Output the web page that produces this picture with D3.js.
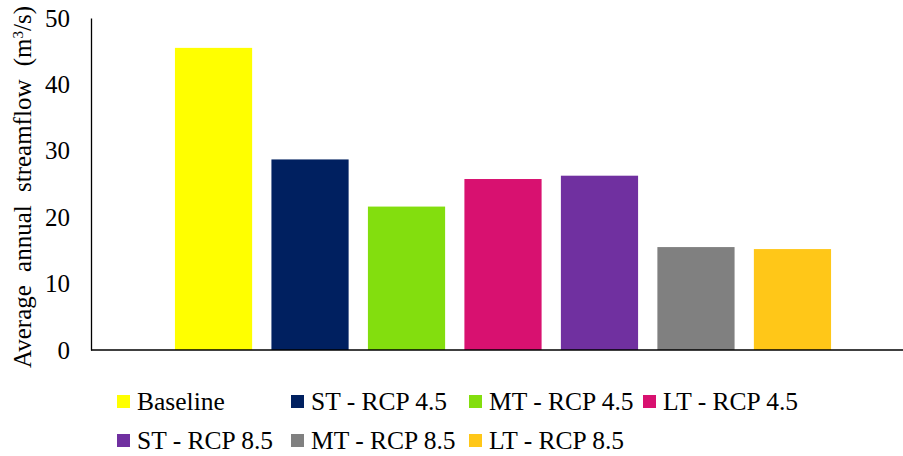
<!DOCTYPE html>
<html>
<head>
<meta charset="utf-8">
<script src="https://cdn.jsdelivr.net/npm/d3@7/dist/d3.min.js"></script>
<style>
  body { margin: 0; background: #fff; }
  svg { display: block; font-family: "Liberation Serif", "Times New Roman", serif; }
</style>
</head>
<body>
<svg id="chart" width="903" height="456"></svg>
<script>
// Scenario names, mean annual streamflow (m³/s) and bar colours
const scenarios = ["Baseline", "ST - RCP 4.5", "MT - RCP 4.5", "LT - RCP 4.5",
                   "ST - RCP 8.5", "MT - RCP 8.5", "LT - RCP 8.5"];
const streamflow = [45.5, 28.7, 21.6, 25.75, 26.25, 15.5, 15.2];
const colors = ["#FFFF00", "#002060", "#83DE0E", "#D81170", "#7030A0", "#808080", "#FFC718"];
const yTicks = [0, 10, 20, 30, 40, 50];

const svg = d3.select("#chart");
const plot = { left: 91, right: 915, top: 18, bottom: 350 };

const x = d3.scaleBand()
  .domain(scenarios)
  .range([plot.left, plot.right])
  .paddingInner(0.2)
  .paddingOuter(0.87);

const y = d3.scaleLinear()
  .domain([0, 50])
  .range([plot.bottom, plot.top]);

// Bars
svg.append("g")
  .selectAll("rect")
  .data(scenarios)
  .join("rect")
  .attr("x", d => x(d))
  .attr("width", x.bandwidth())
  .attr("y", (d, i) => y(streamflow[i]))
  .attr("height", (d, i) => y(0) - y(streamflow[i]))
  .attr("fill", (d, i) => colors[i]);

// Y axis: line only, tick labels without tick marks
const yAxis = svg.append("g")
  .attr("transform", `translate(${plot.left},0)`)
  .call(d3.axisLeft(y).tickValues(yTicks).tickSize(0).tickPadding(21));
yAxis.select(".domain").attr("stroke", "#000").attr("stroke-width", 1.3);
yAxis.selectAll("text")
  .attr("font-size", 25)
  .attr("font-family", "Liberation Serif, serif")
  .attr("fill", "#000");

// X axis baseline
svg.append("line")
  .attr("x1", plot.left).attr("x2", 903)
  .attr("y1", y(0)).attr("y2", y(0))
  .attr("stroke", "#000").attr("stroke-width", 1.3);

// Y axis title
const title = svg.append("text")
  .attr("transform", `translate(31,187) rotate(-90)`)
  .attr("text-anchor", "middle")
  .attr("font-size", 25)
  .attr("word-spacing", 7)
  .attr("fill", "#000");
title.append("tspan").text("Average annual streamflow (m");
title.append("tspan").attr("baseline-shift", "super").attr("font-size", 15).text("3");
title.append("tspan").text("/s)");

// Legend in two rows
const legendCols = [117, 291, 469, 643];
const legendRows = [410, 449];
const legend = svg.append("g")
  .selectAll("g")
  .data(scenarios)
  .join("g")
  .attr("transform", (d, i) => `translate(${legendCols[i % 4]},${legendRows[Math.floor(i / 4)]})`);
legend.append("rect")
  .attr("x", 0).attr("y", -15)
  .attr("width", 13).attr("height", 13)
  .attr("fill", (d, i) => colors[i]);
legend.append("text")
  .attr("x", 20).attr("y", 0)
  .attr("font-size", 25.5)
  .attr("fill", "#000")
  .text(d => d);
</script>
</body>
</html>
